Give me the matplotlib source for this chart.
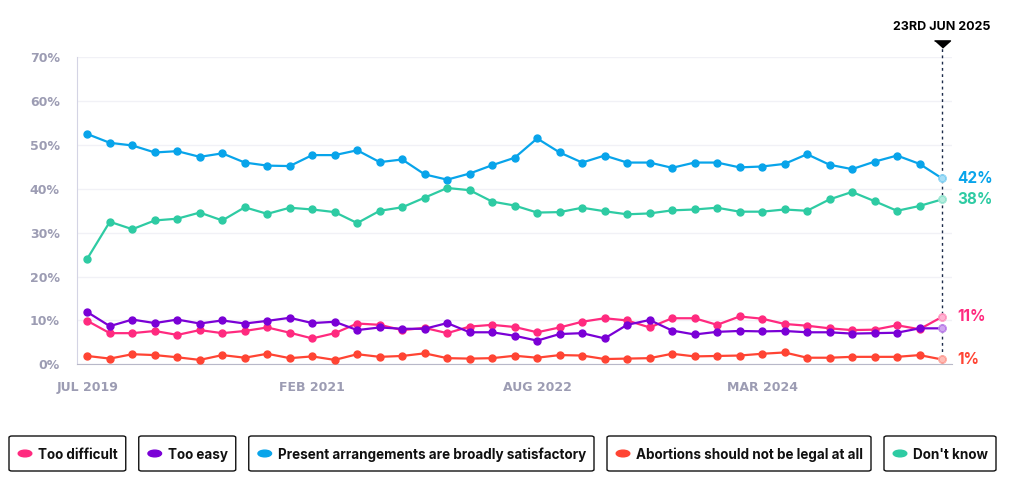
import matplotlib
matplotlib.use("Agg")
import matplotlib.pyplot as plt
from matplotlib.patches import FancyBboxPatch

plt.rcParams['font.family'] = ['Inter', 'DejaVu Sans']

# survey waves, Jul 2019 .. 23 Jun 2025 (39 waves)
tick_idx = [0, 10, 20, 30]
tick_labels = ["JUL 2019", "FEB 2021", "AUG 2022", "MAR 2024"]

too_difficult = [9.9, 7.1, 7.1, 7.6, 6.7, 7.8, 7.1, 7.6, 8.4, 7.2,
                 5.9, 7.1, 9.3, 9.0, 7.8, 8.3, 7.1, 8.6, 9.0, 8.5,
                 7.3, 8.4, 9.7, 10.5, 10.0, 8.4, 10.5, 10.5, 9.0, 10.9,
                 10.4, 9.2, 8.8, 8.2, 7.8, 7.9, 8.9, 8.0, 10.8]
too_easy = [11.9, 8.7, 10.2, 9.4, 10.2, 9.3, 10.0, 9.3, 9.9, 10.6,
            9.4, 9.7, 7.8, 8.4, 8.1, 8.1, 9.4, 7.3, 7.3, 6.5,
            5.4, 6.9, 7.1, 5.9, 9.0, 10.1, 7.7, 6.8, 7.4, 7.6,
            7.5, 7.6, 7.3, 7.3, 7.0, 7.1, 7.2, 8.2, 8.2]
satisfactory = [52.5, 50.5, 49.9, 48.3, 48.6, 47.3, 48.1, 46.0, 45.3, 45.2,
                47.7, 47.7, 48.8, 46.1, 46.7, 43.3, 42.1, 43.5, 45.4, 47.1,
                51.5, 48.3, 46.0, 47.6, 46.0, 46.0, 44.8, 46.0, 46.0, 44.9,
                45.1, 45.7, 47.9, 45.5, 44.5, 46.2, 47.6, 45.7, 42.4]
not_legal = [1.9, 1.3, 2.3, 2.1, 1.6, 1.0, 2.1, 1.5, 2.4, 1.4,
             1.8, 1.0, 2.3, 1.7, 1.9, 2.5, 1.4, 1.3, 1.4, 1.95,
             1.5, 2.1, 2.0, 1.2, 1.3, 1.4, 2.4, 1.8, 1.9, 2.0,
             2.4, 2.7, 1.5, 1.5, 1.7, 1.7, 1.7, 2.1, 1.1]
dont_know = [24.1, 32.5, 30.8, 32.8, 33.2, 34.6, 32.8, 35.8, 34.3, 35.7,
             35.3, 34.7, 32.2, 35.0, 35.8, 38.0, 40.2, 39.7, 37.1, 36.2,
             34.6, 34.7, 35.7, 34.9, 34.2, 34.4, 35.1, 35.3, 35.7, 34.8,
             34.8, 35.3, 35.0, 37.6, 39.3, 37.2, 35.0, 36.1, 37.6]

names = ["Too difficult", "Too easy", "Present arrangements are broadly satisfactory",
         "Abortions should not be legal at all", "Don't know"]
colors = ["#ff2a7f", "#7a00d6", "#08a4ea", "#ff4433", "#2ecba3"]
series = [too_difficult, too_easy, satisfactory, not_legal, dont_know]

fig = plt.figure(figsize=(10.15, 5), dpi=100)
ax = fig.add_axes([0.0754, 0.2714, 0.8622, 0.614])

x = list(range(len(satisfactory)))
for vals, c in zip(series, colors):
    ax.plot(x, vals, color=c, lw=1.6, marker="o", ms=5, mec=c, mfc=c, zorder=3)
    # latest point drawn paler
    ax.plot(x[-1], vals[-1], "o", ms=5, color="white", zorder=4)
    ax.plot(x[-1], vals[-1], "o", ms=5, color=c, alpha=0.35, zorder=5)

tick_font = dict(family="DejaVu Sans", weight="bold", size=9, color="#9c9cb3")
ax.set_xlim(-0.48, len(x) - 1 + 0.43)
ax.set_ylim(0, 70)
ax.set_yticks(range(0, 71, 10))
ax.set_yticklabels([f"{v}%" for v in range(0, 71, 10)], fontdict=tick_font)
ax.set_xticks(tick_idx)
ax.set_xticklabels(tick_labels, fontdict=tick_font)
ax.grid(axis="y", color="#f1f1f6", lw=1)
ax.set_axisbelow(True)
for s in ["top", "right"]:
    ax.spines[s].set_visible(False)
ax.spines["left"].set_color("#d4d4e4")
ax.spines["bottom"].set_color("#b8b8c8")
ax.tick_params(length=0)
ax.tick_params(axis="y", pad=12)
ax.tick_params(axis="x", pad=12)

# end-of-line value labels
for vals, c in zip(series, colors):
    if vals is too_easy:
        continue
    ax.annotate(f"{round(vals[-1])}%", (x[-1], vals[-1]), xytext=(11, 0),
                textcoords="offset points", va="center", ha="left",
                color=c, fontsize=11, fontweight="bold", annotation_clip=False)

# latest date marker
ax.axvline(x[-1], ymin=0, ymax=1.033, color="#1c2b4a", lw=1, ls=(0, (2, 2.5)),
           clip_on=False, zorder=2)
tri = [(-1, 0.45), (1, 0.45), (0, -0.45)]
ax.plot(x[-1], 73.1, marker=tri, ms=11.5, color="black", clip_on=False)
ax.annotate("23RD JUN 2025", (x[-1], 76.9), ha="center", va="center",
            fontsize=9, fontweight="bold", color="black", annotation_clip=False)

# legend boxes
fig.canvas.draw()
r = fig.canvas.get_renderer()
W, H = fig.get_size_inches() * fig.dpi
left = 9
gap = 13
y0, y1 = 500 - 471, 500 - 436
ym = (y0 + y1) / 2
for name, c in zip(names, colors):
    t = fig.text((left + 29) / W, ym / H, name, fontsize=9.7, fontweight="bold",
                 va="center_baseline", ha="left", color="#111111")
    tw = t.get_window_extent(r).width
    fig.patches.append(plt.Circle(((left + 16) / W, ym / H), 6.8 / W,
                                  color=c, transform=fig.transFigure, figure=fig))
    width = 29 + tw + 8
    fig.patches.append(FancyBboxPatch((left / W, y0 / H), width / W, (y1 - y0) / H,
                                      boxstyle="round,pad=0,rounding_size=0.003",
                                      fc="none", ec="#111111", lw=1,
                                      transform=fig.transFigure, figure=fig))
    left += width + gap

fig.savefig("out.png", dpi=100)
